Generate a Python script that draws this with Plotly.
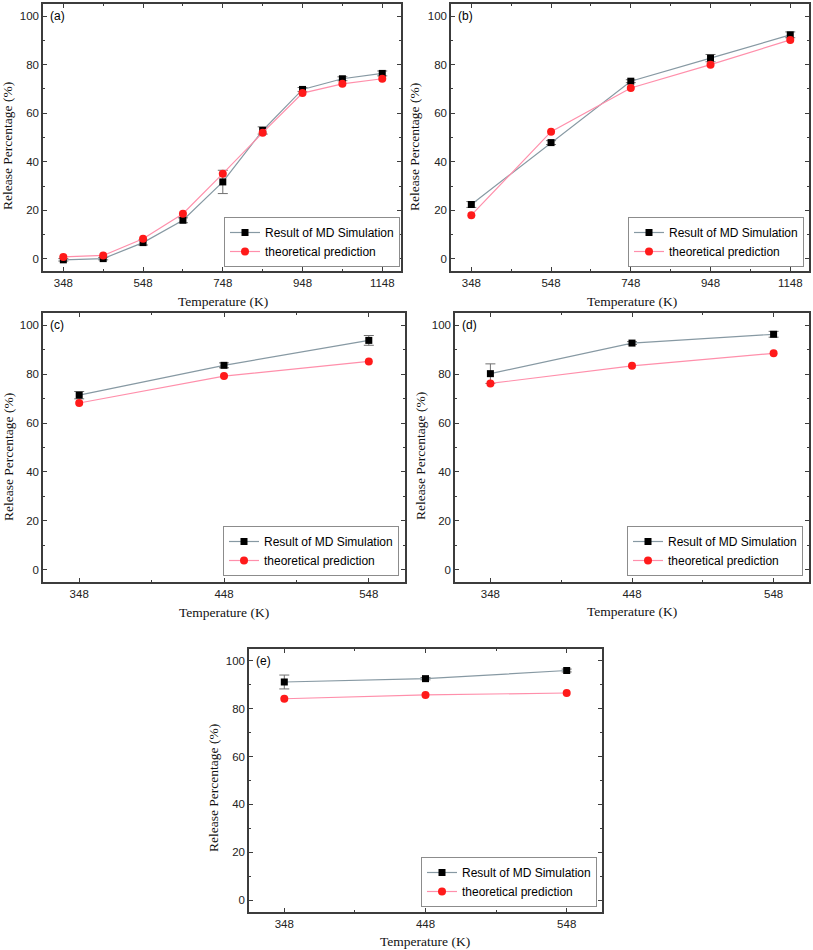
import plotly.graph_objects as go

# ---------------- data ----------------
a_temp = [348, 448, 548, 648, 748, 848, 948, 1048, 1148]
a_md = [-0.4, 0.1, 6.7, 15.9, 31.7, 52.9, 69.8, 74.2, 76.4]
a_md_err = [0.5, 0.5, 1.0, 1.0, 4.8, 1.5, 0.8, 0.8, 1.0]
a_theory = [0.8, 1.4, 8.3, 18.6, 35.1, 52.0, 68.3, 72.1, 74.2]

b_temp = [348, 548, 748, 948, 1148]
b_md = [22.4, 47.9, 73.2, 82.7, 92.3]
b_md_err = [1.2, 0.8, 0.6, 1.5, 1.2]
b_theory = [18.0, 52.4, 70.4, 80.0, 90.2]

c_temp = [348, 448, 548]
c_md = [71.4, 83.6, 93.8]
c_md_err = [1.5, 1.0, 2.0]
c_theory = [68.2, 79.2, 85.2]

d_temp = [348, 448, 548]
d_md = [80.2, 92.7, 96.3]
d_md_err = [4.0, 0.6, 1.2]
d_theory = [76.2, 83.4, 88.5]

e_temp = [348, 448, 548]
e_md = [91.2, 92.6, 96.0]
e_md_err = [2.9, 0.5, 0.6]
e_theory = [84.2, 85.8, 86.6]

panel_labels = ["(a)", "(b)", "(c)", "(d)", "(e)"]
series_names = ["Result of MD Simulation", "theoretical prediction"]
x_title = "Temperature (K)"
y_title = "Release Percentage (%)"

# ---------------- layout geometry (pixels) ----------------
W, H = 813, 950
panels = [
    dict(temp=a_temp, md=a_md, err=a_md_err, th=a_theory, box=(43, 4, 401, 271),
         xr=[297, 1195], dt=200, mdt=100, leg=(400, 267), ytit=(8, 146), xtit=(223, 302)),
    dict(temp=b_temp, md=b_md, err=b_md_err, th=b_theory, box=(451, 4, 809, 271),
         xr=[297, 1195], dt=200, mdt=100, leg=(804, 267), ytit=(414, 147), xtit=(632, 302)),
    dict(temp=c_temp, md=c_md, err=c_md_err, th=c_theory, box=(43, 313, 405, 582),
         xr=[323, 573], dt=100, mdt=50, leg=(399, 576), ytit=(8, 457), xtit=(224, 612)),
    dict(temp=d_temp, md=d_md, err=d_md_err, th=d_theory, box=(455, 313, 809, 582),
         xr=[323, 573], dt=100, mdt=50, leg=(803, 576), ytit=(420, 456), xtit=(632, 611)),
    dict(temp=e_temp, md=e_md, err=e_md_err, th=e_theory, box=(249, 649, 602, 912),
         xr=[323, 573], dt=100, mdt=50, leg=(597, 907), ytit=(213, 788), xtit=(425, 941)),
]

MD_LINE = "#8799a3"
TH_LINE = "#ff8fab"
TH_MARK = "#ff1a1a"
FRAME = "#3c3c3c"
SANS = "Liberation Sans, Arial, sans-serif"
SERIF = "Liberation Serif, Times New Roman, serif"

fig = go.Figure()
annotations = []
layout_extra = {}

for i, p in enumerate(panels, start=1):
    sfx = "" if i == 1 else str(i)
    xa, ya = "x" + sfx, "y" + sfx
    leg = "legend" + sfx
    fig.add_trace(go.Scatter(
        x=p["temp"], y=p["md"], name=series_names[0], mode="lines+markers",
        line=dict(color=MD_LINE, width=1.2),
        marker=dict(symbol="square", size=7, color="black"),
        error_y=dict(type="data", array=p["err"], visible=True, color="#707070",
                     thickness=1, width=5),
        xaxis=xa, yaxis=ya, legend=leg))
    fig.add_trace(go.Scatter(
        x=p["temp"], y=p["th"], name=series_names[1], mode="lines+markers",
        line=dict(color=TH_LINE, width=1.2),
        marker=dict(symbol="circle", size=8, color=TH_MARK),
        xaxis=xa, yaxis=ya, legend=leg))

    x0, y0, x1, y1 = p["box"]
    axis_common = dict(showline=True, linecolor=FRAME, linewidth=1.5, mirror="ticks",
                       ticks="inside", ticklen=4, tickcolor=FRAME, tickwidth=1,
                       showgrid=False, zeroline=False,
                       tickfont=dict(family=SANS, size=11.5, color="#222"))
    layout_extra["xaxis" + sfx] = dict(
        axis_common, domain=[x0 / W, x1 / W], range=p["xr"], anchor=ya,
        tickmode="linear", tick0=348, dtick=p["dt"],
        minor=dict(ticks="inside", ticklen=2, tickcolor=FRAME, tick0=348, dtick=p["mdt"]))
    layout_extra["yaxis" + sfx] = dict(
        axis_common, domain=[1 - y1 / H, 1 - y0 / H], range=[-5, 105], anchor=xa,
        tickmode="linear", tick0=0, dtick=20,
        minor=dict(ticks="inside", ticklen=2, tickcolor=FRAME, tick0=0, dtick=10))
    layout_extra[leg] = dict(
        x=p["leg"][0] / W, y=1 - p["leg"][1] / H, xanchor="right", yanchor="bottom",
        bgcolor="white", bordercolor="#8c8c8c", borderwidth=1,
        font=dict(family=SANS, size=12, color="black"), itemwidth=30)

    # panel label
    annotations.append(dict(text=panel_labels[i - 1], xref=xa + " domain", yref=ya,
                            x=0, y=100, xanchor="left", yanchor="middle", xshift=5,
                            showarrow=False, font=dict(family=SANS, size=12, color="black")))
    # axis titles
    annotations.append(dict(text=x_title, xref="paper", yref="paper",
                            x=p["xtit"][0] / W, y=1 - p["xtit"][1] / H,
                            xanchor="center", yanchor="middle", showarrow=False,
                            font=dict(family=SERIF, size=13.5, color="#111")))
    annotations.append(dict(text=y_title, xref="paper", yref="paper",
                            x=p["ytit"][0] / W, y=1 - p["ytit"][1] / H, textangle=-90,
                            xanchor="center", yanchor="middle", showarrow=False,
                            font=dict(family=SERIF, size=13.5, color="#111")))

fig.update_layout(
    width=W, height=H, margin=dict(l=0, r=0, t=0, b=0),
    paper_bgcolor="white", plot_bgcolor="white",
    showlegend=True, annotations=annotations, **layout_extra)

fig.write_html(
    "out.html",
    config={"displayModeBar": False},
    post_script="document.body.style.margin='0';document.body.style.overflow='hidden';")
